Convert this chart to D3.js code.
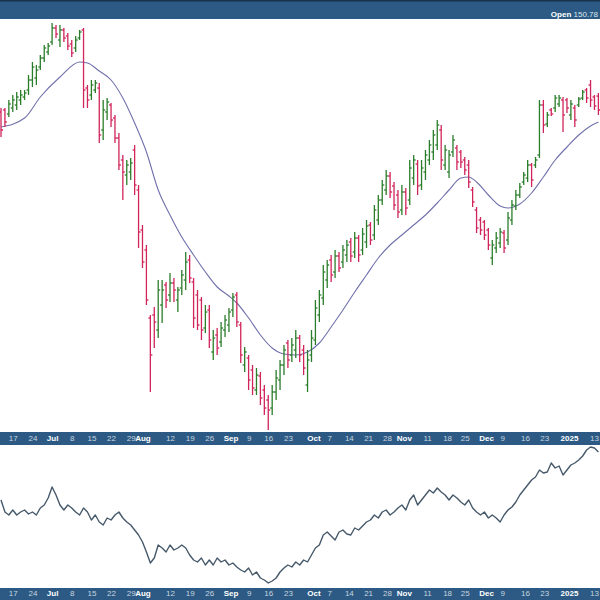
<!DOCTYPE html>
<html><head><meta charset="utf-8">
<script src="https://cdn.jsdelivr.net/npm/d3@7"></script>
<style>html,body{margin:0;padding:0;background:#fff;} svg{display:block;}</style>
</head><body><svg id="c" width="600" height="600"></svg>
<script>
// Daily OHLC (one slot per weekday, starting Wed 12 Jun 2024)
const opens=[147.6,148.0,147.2,148.4,149.0,150.0,150.6,152.0,154.0,154.4,
156.6,158.4,159.6,161.6,164.4,162.0,164.0,162.8,161.2,160.4,
162.4,164.0,152.4,151.0,152.0,152.4,144.0,147.6,149.0,146.4,
142.4,138.0,135.0,135.6,140.0,132.0,124.0,120.0,106.4,107.0,
104.0,109.0,113.0,111.0,113.4,110.0,112.4,114.0,118.0,113.6,
111.0,110.0,104.4,108.0,99.6,103.0,101.6,104.0,105.0,108.0,
111.0,105.0,97.0,98.4,96.0,92.0,94.8,92.0,90.0,88.4,
91.6,94.0,97.0,101.4,99.0,100.0,102.4,100.0,93.0,99.0,
102.0,107.0,110.4,114.0,118.0,115.6,118.8,117.6,119.0,121.6,
119.6,122.4,120.0,121.6,125.0,123.0,126.0,130.0,132.0,134.8,
132.8,131.0,128.0,131.6,130.0,134.4,137.2,133.0,135.6,138.0,
139.6,141.0,144.0,137.0,135.6,139.6,140.4,139.6,138.0,137.0,
132.0,128.0,126.0,125.6,124.0,118.4,120.4,121.4,123.4,122.0,
126.0,128.8,131.0,133.6,134.4,137.0,137.0,139.0,149.0,145.2,
148.0,148.4,149.2,150.0,150.0,147.0,148.4,149.0,150.4,152.0,
153.0,150.6,150.78];
const highs=[148.4,148.4,150.0,151.0,151.6,152.0,152.0,155.0,157.6,157.0,
159.0,161.0,161.4,165.4,165.0,165.0,164.4,163.4,162.0,162.8,
164.0,164.4,153.0,154.0,154.0,153.4,150.0,150.4,149.4,147.0,
143.4,139.0,138.0,138.4,141.0,133.0,125.0,121.0,107.0,108.6,
114.0,114.0,113.6,115.4,114.4,112.6,116.0,119.6,119.0,114.4,
112.0,110.6,109.0,109.0,104.0,104.4,105.6,107.0,108.4,111.4,
111.6,105.6,100.6,99.0,97.0,96.4,95.6,93.0,91.0,93.0,
96.0,98.0,101.0,102.0,102.4,104.0,103.0,101.0,100.0,104.0,
110.0,112.0,117.0,118.0,119.0,120.0,119.6,121.0,122.0,122.4,
123.6,123.0,124.4,126.0,125.6,129.0,131.0,134.0,136.0,135.6,
133.6,132.0,133.0,132.4,138.0,139.0,138.0,138.0,140.0,142.0,
144.0,146.0,145.0,141.0,140.0,143.0,141.0,140.0,138.6,138.0,
132.6,128.6,126.6,126.0,124.4,122.0,123.6,124.4,124.0,127.6,
130.0,132.0,133.4,135.6,138.0,137.4,138.6,150.0,150.0,147.6,
148.4,151.0,151.0,150.6,150.4,150.0,149.0,150.6,152.0,152.4,
154.0,151.0,151.4];
const lows=[142.6,144.6,146.6,147.6,148.0,149.0,150.0,151.0,152.6,153.0,
156.0,157.6,159.0,161.0,162.4,160.6,161.6,160.0,158.6,159.6,
162.0,148.4,148.4,150.0,151.4,141.4,142.0,146.0,144.6,141.4,
136.0,130.0,133.0,134.0,131.0,120.4,116.4,109.0,91.6,100.4,
102.4,105.4,108.4,109.6,109.6,107.6,111.0,112.0,113.4,104.4,
104.0,102.0,103.4,100.4,98.0,99.0,100.6,102.6,103.6,106.6,
104.6,97.4,95.6,92.0,91.0,91.0,89.0,87.0,84.0,87.0,
90.0,92.0,95.0,96.4,97.6,98.4,97.6,95.0,91.6,97.6,
101.0,105.6,109.0,112.4,113.6,114.4,115.6,116.4,117.6,117.6,
118.4,117.6,119.0,120.4,121.0,122.0,125.0,129.0,131.0,130.4,
128.0,126.4,127.0,127.0,129.0,133.0,131.0,132.0,134.0,137.0,
138.0,140.0,136.0,136.0,134.4,138.6,136.0,136.4,135.0,132.4,
128.6,123.4,123.0,122.0,120.0,117.0,119.4,120.4,119.4,121.0,
125.0,128.0,130.4,133.0,133.6,132.6,136.4,138.4,143.4,144.6,
146.8,147.6,148.6,143.6,147.4,146.0,144.6,148.6,150.0,149.4,
148.6,148.0,147.0];
const closes=[144.0,145.6,149.2,150.0,150.6,151.0,151.4,154.0,156.6,156.0,
158.4,160.4,160.8,164.4,163.2,164.0,162.4,160.8,159.4,162.0,
163.6,152.0,150.0,153.0,153.4,143.0,148.0,149.6,146.0,142.4,
137.0,135.6,137.0,137.4,133.0,123.6,117.6,110.0,99.0,105.6,
112.0,112.0,110.0,113.4,112.0,112.0,115.0,117.6,114.4,106.4,
105.0,104.0,107.6,102.0,102.4,100.4,104.4,106.0,107.6,110.6,
105.6,99.0,99.6,94.0,92.4,95.0,90.4,88.4,88.0,91.6,
94.4,97.0,100.0,98.0,101.0,102.4,99.0,96.4,98.0,102.4,
108.4,111.0,115.6,117.0,115.0,118.8,116.4,120.0,121.0,118.8,
122.4,119.0,123.2,124.8,122.0,128.0,130.0,133.0,134.8,131.6,
129.0,127.6,131.6,128.4,136.4,138.0,132.8,136.4,139.0,141.0,
143.0,145.0,138.0,140.0,139.0,142.0,137.6,137.6,136.0,133.6,
129.6,124.4,124.0,123.0,121.0,121.0,122.4,123.6,120.4,126.4,
129.0,131.0,132.6,135.0,137.0,134.0,138.0,149.0,145.0,147.0,
147.2,150.4,150.4,147.0,148.4,149.2,146.0,150.2,151.6,150.4,
150.0,148.8,148.0];

// Moving average overlay (read at these slots)
const maIndex=[0,6,10,15,20,22,25,28,31,34,37,40,43,46,49,52,55,58,60,63,66,69,72,75,78,81,84,87,90,93,96,99,102,105,108,111,114,117,119,121,124,127,129,132,135,138,141,144,147,150,152];
const maValue=[144.6,146.4,150.6,154.6,157.6,157.4,155.8,154.0,150.4,145.4,139.6,132.0,127.0,122.6,119.0,115.6,112.6,110.8,109.4,106.4,103.0,100.4,99.2,99.0,99.6,101.4,104.6,108.0,111.6,115.0,118.4,121.0,123.0,125.0,127.0,129.4,132.0,134.4,134.6,133.6,131.0,128.8,128.4,129.2,131.4,134.6,138.0,140.6,143.0,144.8,145.6];

// Lower panel indicator (one value per slot)
const lowerValues=[0.88,0.76,0.73,0.78,0.73,0.76,0.78,0.74,0.76,0.73,
0.80,0.83,0.90,1.01,0.93,0.83,0.78,0.83,0.80,0.76,
0.73,0.80,0.76,0.68,0.73,0.66,0.63,0.70,0.68,0.73,
0.76,0.70,0.66,0.63,0.58,0.53,0.46,0.36,0.25,0.30,
0.43,0.40,0.36,0.43,0.38,0.40,0.43,0.40,0.33,0.28,
0.26,0.30,0.23,0.28,0.23,0.30,0.26,0.28,0.23,0.25,
0.21,0.18,0.16,0.20,0.13,0.16,0.10,0.08,0.05,0.07,
0.10,0.16,0.20,0.23,0.21,0.26,0.23,0.28,0.26,0.33,
0.40,0.43,0.53,0.56,0.52,0.48,0.56,0.58,0.54,0.53,
0.60,0.58,0.62,0.66,0.68,0.73,0.70,0.76,0.78,0.73,
0.76,0.80,0.83,0.78,0.88,0.93,0.83,0.88,0.93,0.98,
0.95,1.00,0.96,0.93,0.88,0.93,0.90,0.86,0.83,0.88,
0.80,0.76,0.73,0.76,0.70,0.73,0.70,0.66,0.73,0.78,
0.81,0.86,0.93,0.98,1.03,1.08,1.11,1.18,1.15,1.16,
1.25,1.20,1.22,1.13,1.18,1.23,1.25,1.28,1.32,1.38,
1.41,1.40,1.36];

// X-axis tick labels (slot index, label)
const tickIndex=[3,8,13,18,23,28,33,36,43,48,53,58.4,63,68,73,79.5,83.5,88.5,93.4,98.2,102.5,108.4,113.5,118,123.4,127.5,133.3,138.2,144.5,150.9];
const tickLabels=["17","24","Jul","8","15","22","29","Aug","12","19","26","Sep","9","16","23","Oct","7","14","21","28","Nov","11","18","25","Dec","9","16","23","2025","13"];
const monthLabels=["Jul","Aug","Sep","Oct","Nov","Dec","2025"];
const openLabel="150.78";

const svg=d3.select('#c');
const font='"Liberation Sans", Arial, sans-serif';
const band='#2c5a84';
const green='#2a7d2a', red='#d0245a';

const x=d3.scaleLinear().domain([0,152]).range([1,598.4]);
const y=d3.scaleLinear().domain([83.6,166.2]).range([432,19]);
const y2=d3.scaleLinear().domain([0,1.42]).range([588,446]);

svg.append('rect').attr('width',600).attr('height',600).attr('fill','#fff');

const defs=svg.append('defs');
defs.append('clipPath').attr('id','cm').append('rect').attr('x',0).attr('y',19).attr('width',600).attr('height',413);
defs.append('clipPath').attr('id','cl').append('rect').attr('x',0).attr('y',445).attr('width',600).attr('height',143);

// Main panel
const gm=svg.append('g').attr('clip-path','url(#cm)');
const maLine=d3.line().x(d=>x(d[0])).y(d=>y(d[1])).curve(d3.curveMonotoneX);
gm.append('path').datum(maIndex.map((d,i)=>[d,maValue[i]]))
  .attr('d',maLine).attr('fill','none').attr('stroke','#7070ac').attr('stroke-width',1.1);

const bars=gm.selectAll('g.bar').data(d3.range(opens.length)).join('g')
  .attr('stroke',i=>closes[i]>=opens[i]?green:red).attr('stroke-width',1.3);
bars.append('line').attr('x1',i=>x(i)).attr('x2',i=>x(i)).attr('y1',i=>y(highs[i])).attr('y2',i=>y(lows[i]));
bars.append('line').attr('x1',i=>x(i)-2).attr('x2',i=>x(i)).attr('y1',i=>y(opens[i])).attr('y2',i=>y(opens[i]));
bars.append('line').attr('x1',i=>x(i)).attr('x2',i=>x(i)+2).attr('y1',i=>y(closes[i])).attr('y2',i=>y(closes[i]));

// Lower panel
const gl=svg.append('g').attr('clip-path','url(#cl)');
gl.append('path').datum(lowerValues)
  .attr('d',d3.line().x((d,i)=>x(i)).y(d=>y2(d)))
  .attr('fill','none').attr('stroke','#46596a').attr('stroke-width',1.4).attr('stroke-linejoin','round');

// Header
svg.append('rect').attr('x',0).attr('y',0).attr('width',600).attr('height',19).attr('fill',band);
svg.append('rect').attr('x',0).attr('y',0).attr('width',600).attr('height',1.5).attr('fill','#17324d');
const ht=svg.append('text').attr('x',598).attr('y',16.5).attr('text-anchor','end')
  .attr('font-family',font).attr('font-size',8).attr('fill','#fff');
ht.append('tspan').attr('font-weight','bold').text('Open ');
ht.append('tspan').attr('fill','#dfe7ef').text(openLabel);

// Axis bands
function axisBand(top,h,pad){
  svg.append('rect').attr('x',0).attr('y',top).attr('width',600).attr('height',h).attr('fill',band);
  const ax=d3.axisBottom(x).tickValues(tickIndex).tickSize(0).tickPadding(pad)
    .tickFormat((d,i)=>tickLabels[i]);
  const g=svg.append('g').attr('transform',`translate(0,${top})`).call(ax);
  g.select('.domain').remove();
  g.selectAll('text').attr('font-family',font).attr('font-size',8)
    .attr('fill',(d,i)=>monthLabels.includes(tickLabels[i])?'#ffffff':'#c9d4df')
    .attr('font-weight',(d,i)=>monthLabels.includes(tickLabels[i])?'bold':'normal');
}
axisBand(432,13,3.3);
axisBand(588,12,2.6);
</script></body></html>
